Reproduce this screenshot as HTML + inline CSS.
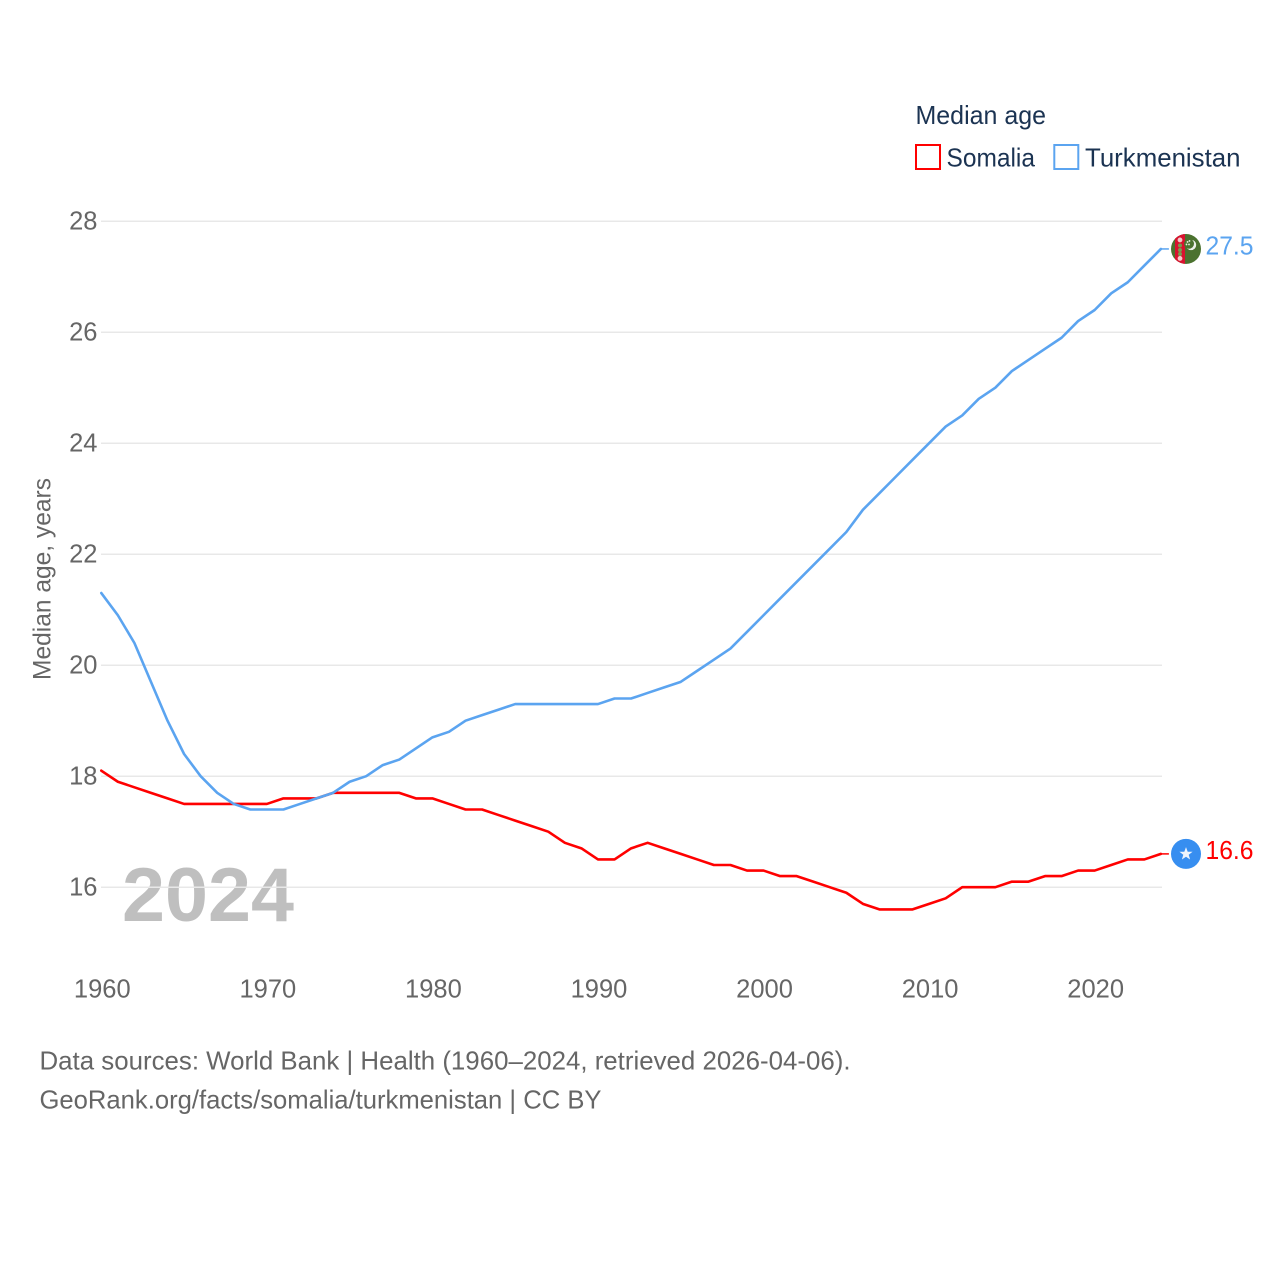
<!DOCTYPE html>
<html lang="en">
<head>
<meta charset="utf-8">
<title>Median age: Somalia and Turkmenistan</title>
<style>
html,body{margin:0;padding:0;background:#fff;}
svg{display:block;font-family:"Liberation Sans",sans-serif;}
</style>
</head>
<body>
<svg id="chart" xmlns="http://www.w3.org/2000/svg" width="1280" height="1280" viewBox="0 0 1280 1280">
  <rect width="1280" height="1280" fill="#fff"/>
  <text x="122" y="921" font-size="76" font-weight="700" fill="#808080" fill-opacity="0.5" textLength="172" lengthAdjust="spacingAndGlyphs">2024</text>
  <g id="grid"></g>
  <g id="yticks"></g>
  <g id="xticks"></g>
  <text transform="translate(50.5,579) rotate(-90)" text-anchor="middle" font-size="25" fill="#666" textLength="202" lengthAdjust="spacingAndGlyphs">Median age, years</text>
  <g id="series"></g>

  <g>
    <text x="915.5" y="124" font-size="26" fill="#1b3352" textLength="130.5" lengthAdjust="spacingAndGlyphs">Median age</text>
    <g>
      <rect x="916" y="145" width="24" height="24" fill="#fff" stroke="#ff0000" stroke-width="2"/>
      <text x="946.5" y="166.5" font-size="26" fill="#1b3352" textLength="88.5" lengthAdjust="spacingAndGlyphs">Somalia</text>
    </g>
    <g>
      <rect x="1054.3" y="145" width="24" height="24" fill="#fff" stroke="#5ba4f0" stroke-width="2"/>
      <text x="1085" y="166.5" font-size="26" fill="#1b3352" textLength="155.5" lengthAdjust="spacingAndGlyphs">Turkmenistan</text>
    </g>
  </g>

  <g id="flag-tm">
    <defs>
      <clipPath id="tm-clip"><circle cx="0" cy="0" r="15"/></clipPath>
    </defs>
    <g clip-path="url(#tm-clip)">
      <rect x="-15" y="-15" width="30" height="30" fill="#4b722f"/>
      <rect x="-11" y="-15" width="10" height="30" fill="#d9122f"/>
      <circle cx="-6" cy="-9" r="2.4" fill="#f3c9c9"/>
      <circle cx="-6" cy="-3.5" r="2" fill="#7a9a50"/>
      <circle cx="-6" cy="1" r="2" fill="#7a9a50"/>
      <circle cx="-6" cy="5" r="2" fill="#7a9a50"/>
      <circle cx="-6" cy="9.5" r="2.4" fill="#f3c9c9"/>
      <circle cx="5" cy="-4" r="5.2" fill="#fff" fill-opacity="0.9"/>
      <circle cx="3" cy="-5.2" r="5" fill="#4b722f"/>
      <circle cx="1.5" cy="-7" r="0.9" fill="#e8eee0"/>
      <circle cx="3.5" cy="-8" r="0.9" fill="#e8eee0"/>
      <circle cx="0.5" cy="-4.5" r="0.9" fill="#e8eee0"/>
      <circle cx="3" cy="-4.5" r="0.9" fill="#e8eee0"/>
    </g>
  </g>
  <g id="flag-so">
    <circle cx="0" cy="0" r="15" fill="#378ef0"/>
    <polygon points="0,-6.8 1.7,-2.2 6.6,-2.1 2.7,0.9 4.1,5.6 0,2.9 -4.1,5.6 -2.7,0.9 -6.6,-2.1 -1.7,-2.2" fill="#eef4fc"/>
  </g>
  <text id="label-tm" x="1205.5" font-size="26" fill="#5ba4f0" textLength="48" lengthAdjust="spacingAndGlyphs"></text>
  <text id="label-so" x="1205.5" font-size="26" fill="#ff0000" textLength="48" lengthAdjust="spacingAndGlyphs"></text>

  <g>
    <text x="39.5" y="1069.5" font-size="26" fill="#666" textLength="811" lengthAdjust="spacingAndGlyphs">Data sources: World Bank | Health (1960–2024, retrieved 2026-04-06).</text>
    <text x="39.5" y="1108.5" font-size="26" fill="#666" textLength="562" lengthAdjust="spacingAndGlyphs">GeoRank.org/facts/somalia/turkmenistan | CC BY</text>
  </g>
</svg>
<script>
const years = [1960,1961,1962,1963,1964,1965,1966,1967,1968,1969,1970,1971,1972,1973,1974,1975,1976,1977,1978,1979,1980,1981,1982,1983,1984,1985,1986,1987,1988,1989,1990,1991,1992,1993,1994,1995,1996,1997,1998,1999,2000,2001,2002,2003,2004,2005,2006,2007,2008,2009,2010,2011,2012,2013,2014,2015,2016,2017,2018,2019,2020,2021,2022,2023,2024];
const somalia = [18.1,17.9,17.8,17.7,17.6,17.5,17.5,17.5,17.5,17.5,17.5,17.6,17.6,17.6,17.7,17.7,17.7,17.7,17.7,17.6,17.6,17.5,17.4,17.4,17.3,17.2,17.1,17.0,16.8,16.7,16.5,16.5,16.7,16.8,16.7,16.6,16.5,16.4,16.4,16.3,16.3,16.2,16.2,16.1,16.0,15.9,15.7,15.6,15.6,15.6,15.7,15.8,16.0,16.0,16.0,16.1,16.1,16.2,16.2,16.3,16.3,16.4,16.5,16.5,16.6];
const turkmenistan = [21.3,20.9,20.4,19.7,19.0,18.4,18.0,17.7,17.5,17.4,17.4,17.4,17.5,17.6,17.7,17.9,18.0,18.2,18.3,18.5,18.7,18.8,19.0,19.1,19.2,19.3,19.3,19.3,19.3,19.3,19.3,19.4,19.4,19.5,19.6,19.7,19.9,20.1,20.3,20.6,20.9,21.2,21.5,21.8,22.1,22.4,22.8,23.1,23.4,23.7,24.0,24.3,24.5,24.8,25.0,25.3,25.5,25.7,25.9,26.2,26.4,26.7,26.9,27.2,27.5];
const yTickValues = [16,18,20,22,24,26,28];
const xTickValues = [1960,1970,1980,1990,2000,2010,2020];

const NS = 'http://www.w3.org/2000/svg';
function xScale(year){ return 101.3 + (year - 1960) * (1059.6 / 64); }
function yScale(v){ return 887.2 - (v - 16) * (666 / 12); }
function make(tag, parent, attrs){
  const el = document.createElementNS(NS, tag);
  Object.keys(attrs).forEach(function(k){ el.setAttribute(k, attrs[k]); });
  parent.appendChild(el);
  return el;
}

const grid = document.getElementById('grid');
const yticks = document.getElementById('yticks');
const xticks = document.getElementById('xticks');
const seriesGroup = document.getElementById('series');

yTickValues.forEach(function(v){
  const line = make('line', grid, {x1:101, x2:1162, y1:yScale(v), y2:yScale(v), stroke:'#e8e8e8', 'stroke-width':1.5});
  
  
  const t = make('text', yticks, {x:97.5, y:yScale(v)+8.3, 'text-anchor':'end', 'font-size':25.5, fill:'#666'});
  
  
  t.textContent = String(v);
});

xTickValues.forEach(function(y){
  const t = make('text', xticks, {x:xScale(y)+1, y:997.5, 'text-anchor':'middle', 'font-size':25.5, fill:'#666'});
  
  
  t.textContent = String(y);
});

function drawLine(values, color){
  const pts = values.map(function(v, i){ return xScale(years[i]).toFixed(2) + ',' + yScale(v).toFixed(2); }).join(' ');
  return make('polyline', seriesGroup, {points:pts, fill:'none', stroke:color, 'stroke-width':2.6, 'stroke-linejoin':'round', 'stroke-linecap':'round'});
}
function drawLeader(values, color){
  const last = values[values.length - 1];
  const lastX = xScale(years[years.length - 1]);
  return make('line', seriesGroup, {x1:lastX, x2:lastX + 8, y1:yScale(last), y2:yScale(last), stroke:color, 'stroke-width':1.5});
}

const lineSomalia = drawLine(somalia, '#ff0000');


const lineTurkmenistan = drawLine(turkmenistan, '#5ba4f0');


const leaderSomalia = drawLeader(somalia, '#ff0000');


const leaderTurkmenistan = drawLeader(turkmenistan, '#5ba4f0');



const lastSomalia = somalia[somalia.length - 1];
const lastTurkmenistan = turkmenistan[turkmenistan.length - 1];
document.getElementById('flag-tm').setAttribute('transform', 'translate(1186,' + yScale(lastTurkmenistan) + ')');
document.getElementById('flag-so').setAttribute('transform', 'translate(1186,' + yScale(lastSomalia) + ')');
const labelTm = document.getElementById('label-tm');
labelTm.setAttribute('y', yScale(lastTurkmenistan) + 5.3);
labelTm.textContent = lastTurkmenistan.toFixed(1);
const labelSo = document.getElementById('label-so');
labelSo.setAttribute('y', yScale(lastSomalia) + 5.3);
labelSo.textContent = lastSomalia.toFixed(1);
</script>
</body>
</html>
